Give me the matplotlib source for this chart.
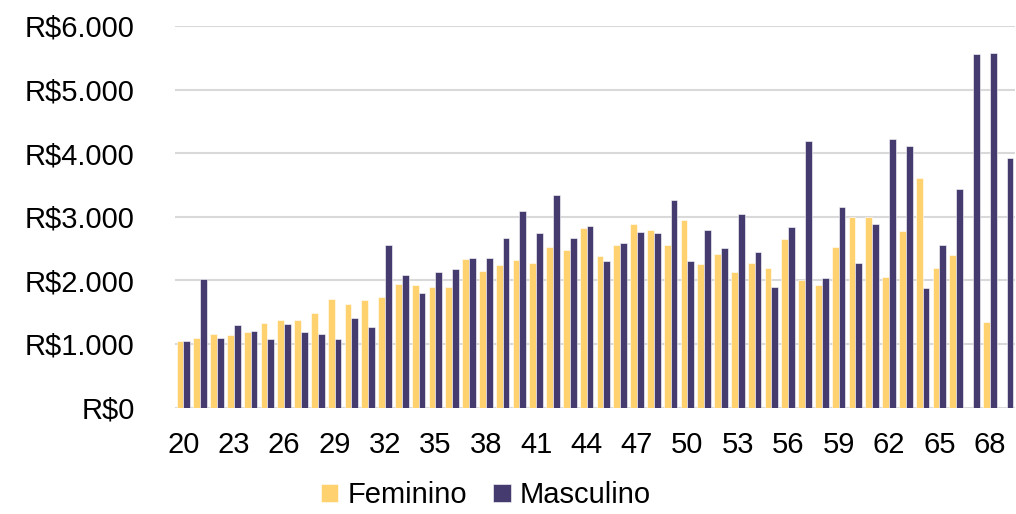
import numpy as np
import matplotlib.pyplot as plt

plt.rcParams['font.family'] = ['Liberation Sans', 'DejaVu Sans']

# Idades 20..69
idades = list(range(20, 70))
feminino = [1050, 1095, 1157, 1140, 1180, 1330, 1380, 1370, 1480, 1700,
            1630, 1690, 1740, 1940, 1930, 1900, 1890, 2330, 2150, 2240,
            2320, 2270, 2530, 2470, 2830, 2390, 2550, 2890, 2790, 2560,
            2950, 2260, 2410, 2130, 2270, 2200, 2650, 2010, 1920, 2520,
            2990, 2990, 2050, 2770, 3610, 2190, 2400, 0, 1350, 0]
masculino = [1050, 2020, 1095, 1300, 1200, 1080, 1320, 1180, 1160, 1080,
             1400, 1260, 2550, 2090, 1800, 2130, 2180, 2350, 2355, 2670,
             3090, 2750, 3340, 2670, 2850, 2310, 2590, 2760, 2750, 3260,
             2300, 2790, 2510, 3040, 2440, 1900, 2840, 4190, 2040, 3160,
             2280, 2890, 4230, 4120, 1880, 2550, 3440, 5560, 5570, 3920]
y_ticks = [0, 1000, 2000, 3000, 4000, 5000, 6000]
y_labels = ['R$0', 'R$1.000', 'R$2.000', 'R$3.000', 'R$4.000', 'R$5.000', 'R$6.000']

cor_fem = '#FFD16F'
cor_masc = '#463B6E'

fig = plt.figure(figsize=(10.16, 5.14), dpi=100)
ax = fig.add_axes([175 / 1016, (514 - 407.5) / 514, 840 / 1016, 381.5 / 514])

x = np.arange(len(idades))
w = 0.41
ax.bar(x - w / 2, feminino, width=w, color=cor_fem, edgecolor='white', linewidth=0.4,
       label='Feminino', zorder=3)
ax.bar(x + w / 2, masculino, width=w, color=cor_masc, edgecolor='white', linewidth=0.4,
       label='Masculino', zorder=3)

ax.set_xlim(-0.5, len(idades) - 0.5)
ax.set_ylim(0, 6000)
ax.set_yticks(y_ticks)
ax.set_yticklabels(y_labels)
ax.set_xticks(x[::3])
ax.set_xticklabels([str(i) for i in idades[::3]])
ax.tick_params(axis='both', length=0, labelsize=21, colors='black')
ax.tick_params(axis='y', pad=29)
ax.tick_params(axis='x', pad=17)

ax.grid(axis='y', color='#D9D9D9', linewidth=1.5, zorder=0)
for s in ['top', 'right', 'left', 'bottom']:
    ax.spines[s].set_visible(False)

fig.legend(loc='lower center', ncol=2, frameon=False, fontsize=21,
           bbox_to_anchor=(0.478, -0.042), handlelength=0.6, handleheight=0.6,
           handletextpad=0.3, columnspacing=0.9)

fig.savefig('out.png', dpi=100)
